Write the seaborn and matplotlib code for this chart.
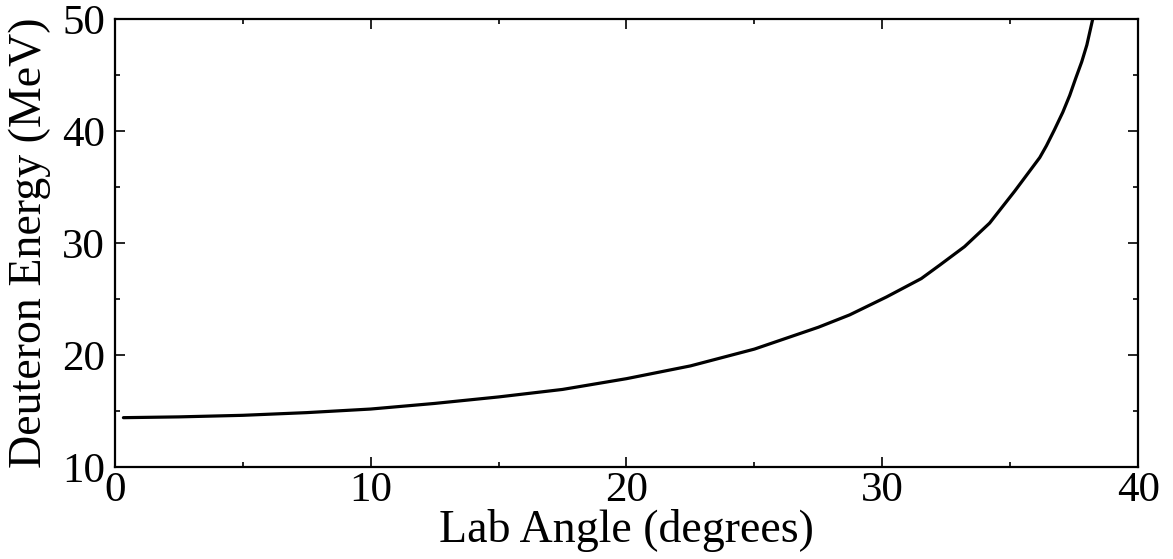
import matplotlib
matplotlib.use("Agg")
import matplotlib.pyplot as plt
import seaborn as sns
import pandas as pd
from matplotlib.ticker import MultipleLocator

lab_angle = [0.34, 2.5, 5, 7.5, 10, 12.5, 15, 17.5, 20, 22.5, 25, 27.5, 28.72, 30.16,
             31.52, 32.24, 33.21, 34.19, 35.17, 36.15, 36.41, 36.72, 37.05, 37.32,
             37.55, 37.79, 37.99, 38.22]
deuteron_energy = [14.43, 14.5, 14.64, 14.88, 15.2, 15.7, 16.28, 16.95, 17.91, 19.05, 20.55,
                   22.5, 23.6, 25.2, 26.84, 28.04, 29.69, 31.79, 34.64, 37.64, 38.69, 40.1,
                   41.68, 43.18, 44.68, 46.18, 47.68, 50.0]

df = pd.DataFrame({"angle": lab_angle, "energy": deuteron_energy})

sns.set_style("ticks")
plt.rcParams["font.family"] = ["Liberation Serif", "DejaVu Serif"]
plt.rcParams["text.color"] = "black"
plt.rcParams["axes.labelcolor"] = "black"
plt.rcParams["xtick.color"] = "black"
plt.rcParams["ytick.color"] = "black"

fig = plt.figure(figsize=(11.73, 5.59), dpi=100)
ax = fig.add_axes([0.0978, 0.164, 0.8726, 0.802])

sns.lineplot(data=df, x="angle", y="energy", ax=ax, color="black", linewidth=2.3,
             sort=False, estimator=None)

ax.set_xlim(0, 40)
ax.set_ylim(10, 50)
ax.xaxis.set_major_locator(MultipleLocator(10))
ax.xaxis.set_minor_locator(MultipleLocator(5))
ax.yaxis.set_major_locator(MultipleLocator(10))
ax.yaxis.set_minor_locator(MultipleLocator(5))

ax.tick_params(which="both", direction="in", top=True, right=True, width=1.2,
               labelsize=31, colors="black")
ax.tick_params(axis="x", which="both", pad=3)
ax.tick_params(axis="y", which="both", pad=7)
ax.tick_params(which="major", length=7.5)
ax.tick_params(which="minor", length=3.8)

for s in ax.spines.values():
    s.set_linewidth(1.6)
    s.set_color("black")

ax.set_xlabel("Lab Angle (degrees)", fontsize=33, labelpad=-1)
ax.set_ylabel("Deuteron Energy (MeV)", fontsize=33, labelpad=8)

fig.savefig("out.png", dpi=100, facecolor="white")
